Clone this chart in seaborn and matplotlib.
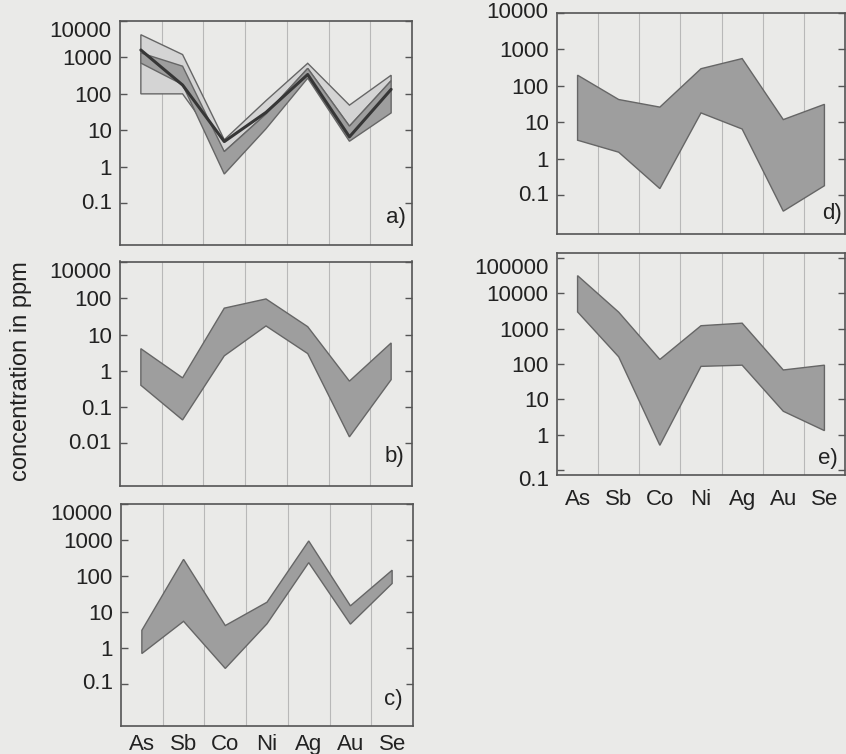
import numpy as np
import pandas as pd
import matplotlib
matplotlib.use("Agg")
import matplotlib.pyplot as plt
import seaborn as sns
from matplotlib.ticker import NullLocator

# ---------------------------------------------------------------- data
elements = ["As", "Sb", "Co", "Ni", "Ag", "Au", "Se"]

# panel a: wide range (light), narrower range (medium) and a typical profile
a_light_hi = [4200, 1200, 5.5, 65, 690, 49, 325]
a_light_lo = [100, 100, 2.6, 28, 500, 13, 230]
a_mid_hi = [1330, 575, 2.6, 28, 500, 13, 230]
a_mid_lo = [700, 180, 0.63, 11, 270, 5.0, 30]
a_line = [1600, 175, 4.9, 31, 340, 6.6, 133]

b_hi = [4.1, 0.64, 54, 97, 16.6, 0.52, 5.9]
b_lo = [0.40, 0.044, 2.6, 17.4, 3.0, 0.015, 0.57]

c_hi = [3.1, 290, 4.2, 18.7, 940, 14.8, 145]
c_lo = [0.70, 5.5, 0.27, 4.7, 235, 4.6, 62]

d_hi = [196, 42, 26, 295, 560, 11.8, 31]
d_lo = [3.2, 1.5, 0.15, 18, 6.5, 0.036, 0.18]

e_hi = [32000, 2950, 135, 1220, 1440, 68, 93]
e_lo = [3000, 160, 0.5, 86, 93, 4.6, 1.3]

ticks_std = [10000, 1000, 100, 10, 1, 0.1]
labels_std = ["10000", "1000", "100", "10", "1", "0.1"]
ticks_b = [1000, 100, 10, 1, 0.1, 0.01]
labels_b = ["10000", "100", "10", "1", "0.1", "0.01"]
ticks_e = [100000, 10000, 1000, 100, 10, 1, 0.1]
labels_e = ["100000", "10000", "1000", "100", "10", "1", "0.1"]

# ---------------------------------------------------------------- style
sns.set_theme(style="ticks")
plt.rcParams["font.family"] = ["Liberation Sans", "DejaVu Sans"]

PAPER = "#eaeae8"
SPINE = "#555555"
GRID = "#b8b8b8"
FILL = "#9e9e9e"
FILL_LIGHT = "#d4d4d4"
EDGE = "#666666"
LINE = "#363636"
TEXT = "#222222"
FS = 16

W, H = 846, 754
fig = plt.figure(figsize=(W / 100, H / 100), dpi=100, facecolor=PAPER)

pos = np.arange(len(elements))


def make_axes(left, right, top, bottom):
    ax = fig.add_axes([left / W, 1 - bottom / H, (right - left) / W, (bottom - top) / H])
    ax.set_facecolor("none")
    return ax


def band(ax, lo, hi, fill, z):
    df = pd.DataFrame({"pos": pos, "lo": lo, "hi": hi})
    xs = list(df["pos"]) + list(df["pos"][::-1])
    ys = list(df["hi"]) + list(df["lo"][::-1])
    ax.fill(xs, ys, facecolor=fill, edgecolor=EDGE, linewidth=1.0, zorder=z)


def style(ax, ylim, ticks, labels, xlabels, letter, letter_xy, top_va="top",
          bottom_va="center", xpad=6):
    ax.set_yscale("log")
    ax.set_xlim(-0.5, 6.5)
    ax.set_ylim(*ylim)
    ax.set_yticks(ticks)
    ax.set_yticklabels(labels)
    ax.yaxis.set_minor_locator(NullLocator())
    ax.set_xticks(pos)
    ax.set_xticklabels(elements if xlabels else [])
    ax.set_xticks(np.arange(0.5, 6.0, 1.0), minor=True)
    ax.grid(axis="x", which="minor", color=GRID, linewidth=0.8, zorder=0)
    ax.grid(axis="x", which="major", visible=False)
    ax.grid(axis="y", visible=False)
    ax.tick_params(axis="y", which="major", direction="in", length=5, width=1,
                   color=SPINE, left=True, right=True, labelsize=FS,
                   labelcolor=TEXT, pad=6)
    ax.tick_params(axis="x", which="both", length=0, labelsize=FS,
                   labelcolor=TEXT, pad=xpad)
    for sp in ax.spines.values():
        sp.set_visible(True)
        sp.set_color(SPINE)
        sp.set_linewidth(1.2)
    majors = ax.yaxis.get_major_ticks()
    majors[0].label1.set_va(top_va)
    majors[-1].label1.set_va(bottom_va)
    ax.set_xlabel("")
    ax.set_ylabel("")
    ax.text(letter_xy[0], letter_xy[1], letter, transform=ax.transAxes,
            ha="right", va="center", fontsize=FS, color=TEXT)


# panel a
ax_a = make_axes(120, 412, 21, 245)
band(ax_a, a_light_lo, a_light_hi, FILL_LIGHT, 2)
band(ax_a, a_mid_lo, a_mid_hi, FILL, 3)
sns.lineplot(x=pos, y=a_line, ax=ax_a, color=LINE, linewidth=2.2, zorder=4)
style(ax_a, (0.0071, 9500), ticks_std, labels_std, False, "a)", (0.98, 0.123))

# panel b
ax_b = make_axes(120, 412, 261.5, 485.5)
band(ax_b, b_lo, b_hi, FILL, 3)
style(ax_b, (0.00068, 1050), ticks_b, labels_b, False, "b)", (0.975, 0.13))

# panel c
ax_c = make_axes(121, 413, 504, 726)
band(ax_c, c_lo, c_hi, FILL, 3)
style(ax_c, (0.0068, 10000), ticks_std, labels_std, True, "c)", (0.965, 0.12),
      xpad=6)

# panel d
ax_d = make_axes(557, 845, 13, 234)
band(ax_d, d_lo, d_hi, FILL, 3)
style(ax_d, (0.0085, 9800), ticks_std, labels_std, False, "d)", (0.99, 0.093),
      top_va="center")

# panel e
ax_e = make_axes(557, 845, 253, 475)
band(ax_e, e_lo, e_hi, FILL, 3)
style(ax_e, (0.072, 140000), ticks_e, labels_e, True, "e)", (0.975, 0.074),
      bottom_va="top", xpad=10)

fig.text(21 / W, 1 - 371 / H, "concentration in ppm", rotation=90,
         ha="center", va="center", fontsize=17, color=TEXT)

fig.savefig("out.png", dpi=100, facecolor=PAPER)
